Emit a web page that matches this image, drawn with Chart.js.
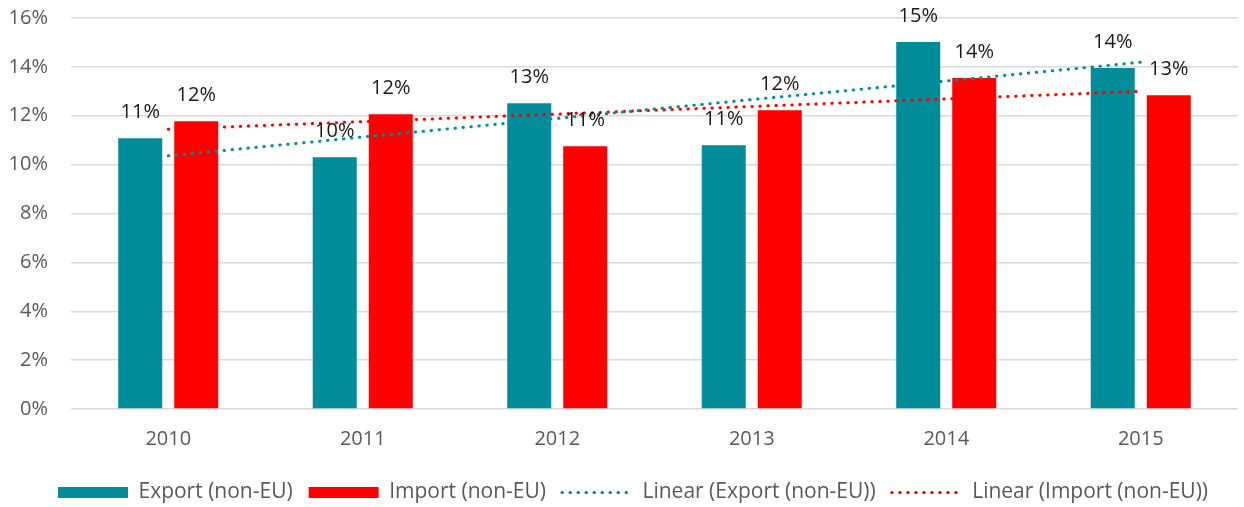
<!DOCTYPE html>
<html>
<head>
<meta charset="utf-8">
<script src="https://cdn.jsdelivr.net/npm/chart.js@4/dist/chart.umd.min.js"></script>
<style>
  html, body { margin: 0; padding: 0; background: #fff; }
  #wrap { width: 1244px; height: 507px; }
</style>
</head>
<body>
<div id="wrap"><canvas id="chart"></canvas></div>
<script>
const years = ['2010', '2011', '2012', '2013', '2014', '2015'];
const exportNonEU = [11.08, 10.3, 12.51, 10.79, 15.02, 13.95];
const importNonEU = [11.77, 12.06, 10.75, 12.23, 13.54, 12.84];
// trend lines
const exportTrend = [10.36, 11.13, 11.89, 12.66, 13.42, 14.19];
const importTrend = [11.45, 11.76, 12.07, 12.38, 12.69, 13.0];
const yTicks = [0, 2, 4, 6, 8, 10, 12, 14, 16];

const TEAL = '#008C99';
const RED = '#FF0000';
const FONT = '"Open Sans", Lato, sans-serif';

// labels above the bars
const barLabels = {
  id: 'barLabels',
  afterDatasetsDraw(chart) {
    const ctx = chart.ctx;
    ctx.save();
    ctx.font = '20px ' + FONT;
    ctx.fillStyle = '#1a1a1a';
    ctx.textAlign = 'center';
    ctx.textBaseline = 'middle';
    chart.data.datasets.forEach((ds, i) => {
      if (ds.type !== 'bar') return;
      chart.getDatasetMeta(i).data.forEach((bar, j) => {
        ctx.fillText(Math.round(ds.data[j]) + '%', bar.x, bar.y - 26);
      });
    });
    ctx.restore();
  }
};

// legend sits a bit right of centre in the original
const shiftLegend = {
  id: 'shiftLegend',
  afterLayout(chart) {
    chart.legend.left += 14;
    chart.legend.right += 14;
  }
};

new Chart(document.getElementById('chart'), {
  data: {
    labels: years,
    datasets: [
      { type: 'bar', label: 'Export (non-EU)', data: exportNonEU, backgroundColor: TEAL, order: 1,
        categoryPercentage: 0.576, barPercentage: 0.786 },
      { type: 'bar', label: 'Import (non-EU)', data: importNonEU, backgroundColor: RED, order: 1,
        categoryPercentage: 0.576, barPercentage: 0.786 },
      { type: 'line', label: 'Linear (Export (non-EU))', data: exportTrend, borderColor: TEAL,
        borderWidth: 3, borderDash: [0.5, 7.5], borderCapStyle: 'round', pointRadius: 0, fill: false, order: 0 },
      { type: 'line', label: 'Linear (Import (non-EU))', data: importTrend, borderColor: RED,
        borderWidth: 3, borderDash: [0.5, 7.5], borderCapStyle: 'round', pointRadius: 0, fill: false, order: 0 }
    ]
  },
  options: {
    responsive: true,
    maintainAspectRatio: false,
    animation: false,
    layout: { padding: { top: 18, right: 6, bottom: -6, left: 0 } },
    scales: {
      x: {
        grid: { display: false, drawTicks: false },
        border: { display: false },
        ticks: { color: '#595959', font: { family: FONT, size: 20 }, padding: 18 },
        afterFit(scale) { scale.height = 57; }
      },
      y: {
        min: 0,
        max: 16,
        afterBuildTicks(scale) { scale.ticks = yTicks.map(v => ({ value: v })); },
        grid: { color: '#D9D9D9', lineWidth: 1.5, drawTicks: true, tickLength: 20, tickColor: 'transparent' },
        border: { display: false },
        ticks: { color: '#595959', font: { family: FONT, size: 20 }, padding: 3,
          callback: v => v + '%' },
        afterFit(scale) { scale.width = 71; }
      }
    },
    plugins: {
      tooltip: { enabled: false },
      legend: {
        position: 'bottom',
        labels: {
          color: '#595959',
          font: { family: FONT, size: 21 },
          usePointStyle: true,
          pointStyleWidth: 70,
          boxWidth: 70,
          boxHeight: 11,
          padding: 16,
          sort: (a, b) => a.datasetIndex - b.datasetIndex,
          generateLabels(chart) {
            const items = Chart.defaults.plugins.legend.labels.generateLabels(chart);
            items.forEach(it => {
              const ds = chart.data.datasets[it.datasetIndex];
              if (ds.type === 'line') {
                it.pointStyle = 'line';
                it.lineDash = [0.5, 7.5];
                it.lineCap = 'round';
                it.lineWidth = 3;
                it.strokeStyle = ds.borderColor;
              } else {
                it.pointStyle = 'rect';
                it.lineWidth = 0;
                it.fillStyle = ds.backgroundColor;
              }
            });
            return items;
          }
        }
      }
    }
  },
  plugins: [barLabels, shiftLegend]
});
</script>
</body>
</html>
